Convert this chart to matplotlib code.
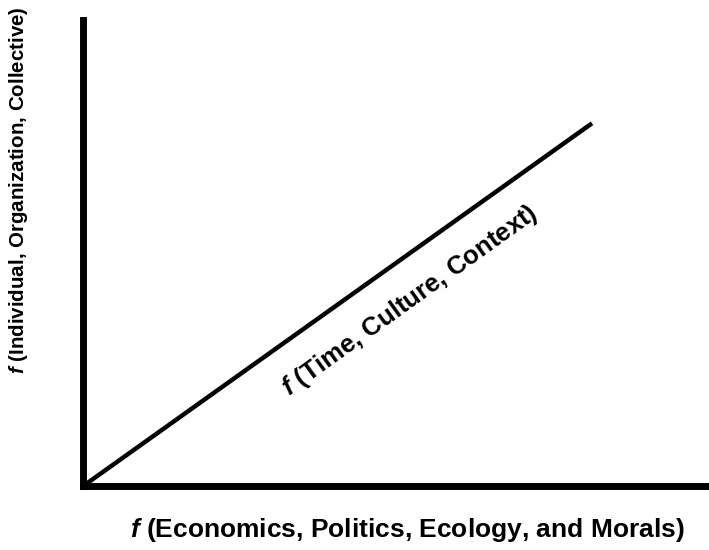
import matplotlib
matplotlib.use("Agg")
import matplotlib.pyplot as plt

plt.rcParams['font.family'] = ['Liberation Sans', 'DejaVu Sans']
plt.rcParams['mathtext.fontset'] = 'custom'
plt.rcParams['mathtext.bfit'] = 'Liberation Sans:bold:italic'
plt.rcParams['mathtext.it'] = 'Liberation Sans:italic'

# данные: линия от начала координат
line_x = [0.0, 0.814]
line_y = [0.0, 0.779]
line_label = r"$\bfit{f}$ (Time, Culture, Context)"
x_label = r"$\bfit{f}$ (Economics, Politics, Ecology, and Morals)"
y_label = r"$\bfit{f}$ (Individual, Organization, Collective)"

fig = plt.figure(figsize=(7.09, 5.5), dpi=100)
ax = fig.add_axes([0.117, 0.116, 0.882, 0.847])

ax.plot(line_x, line_y, color='black', lw=3.2, solid_capstyle='butt')
ax.set_xlim(0, 1)
ax.set_ylim(0, 1)

for s in ['top', 'right']:
    ax.spines[s].set_visible(False)
for s in ['left', 'bottom']:
    ax.spines[s].set_linewidth(5)
ax.set_xticks([])
ax.set_yticks([])

ax.text(0.523, 0.398, line_label, rotation=35.7, rotation_mode='anchor',
        ha='center', va='center', fontsize=18.5, fontweight='bold')

fig.text(0.574, 0.036, x_label, ha='center', va='center',
         fontsize=19, fontweight='bold')
fig.text(0.026, 0.654, y_label, ha='center', va='center', rotation=90,
         fontsize=14.8, fontweight='bold')

plt.savefig('out.png', dpi=100)
